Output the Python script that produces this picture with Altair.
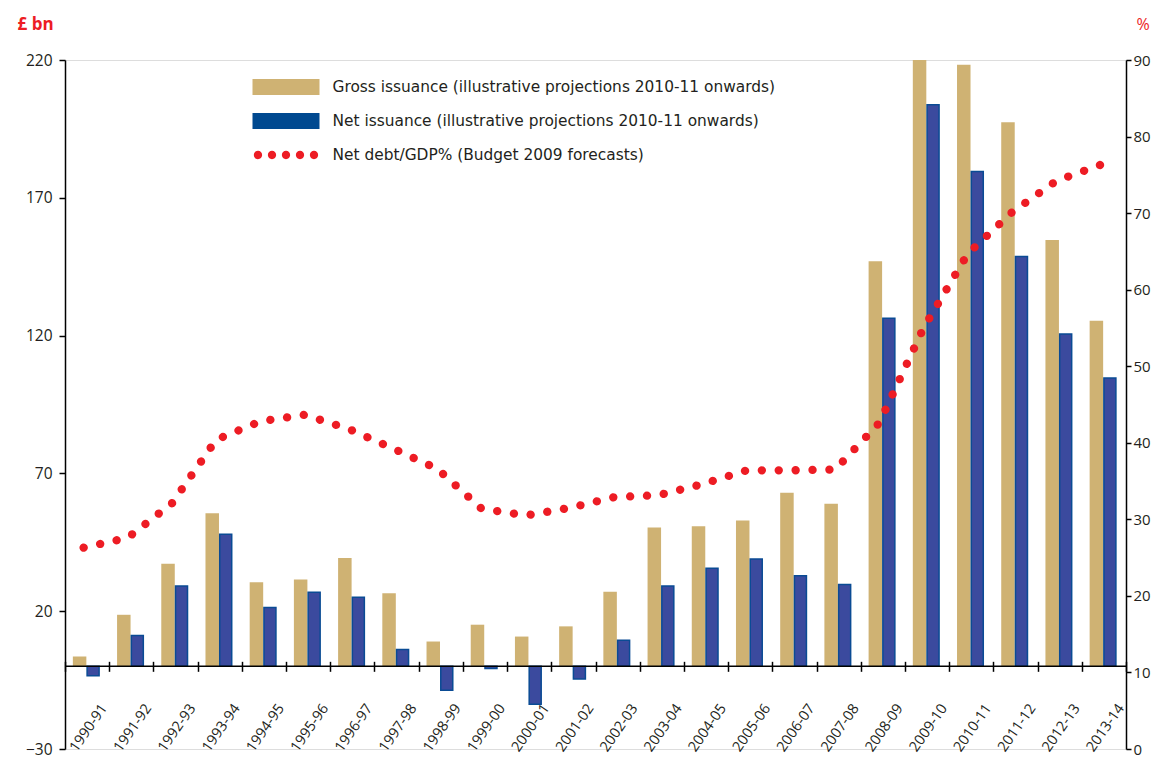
import altair as alt
import pandas as pd

years = ["1990-91", "1991-92", "1992-93", "1993-94", "1994-95", "1995-96",
         "1996-97", "1997-98", "1998-99", "1999-00", "2000-01", "2001-02",
         "2002-03", "2003-04", "2004-05", "2005-06", "2006-07", "2007-08",
         "2008-09", "2009-10", "2010-11", "2011-12", "2012-13", "2013-14"]
gross = [3.6, 18.7, 37.2, 55.5, 30.5, 31.5, 39.3, 26.5, 9.0, 15.1, 10.8, 14.5,
         27.1, 50.4, 50.8, 52.9, 63.0, 59.0, 147.0, 220.0, 218.3, 197.4, 154.7, 125.4]
net = [-3.4, 11.2, 29.1, 47.9, 21.3, 26.9, 25.1, 6.1, -8.7, -0.8, -13.8, -4.6,
       9.5, 29.1, 35.6, 38.9, 32.9, 29.7, 126.3, 203.8, 179.5, 148.7, 120.6, 104.6]
debt = [26.3, 27.6, 32.1, 40.4, 42.8, 43.65, 41.8, 39.25, 36.6, 31.4, 30.5, 31.5,
        32.9, 33.15, 34.6, 36.4, 36.4, 36.5, 42.6, 55.0, 64.7, 70.1, 74.2, 76.3]
series_labels = ["Gross issuance (illustrative projections 2010-11 onwards)",
                 "Net issuance (illustrative projections 2010-11 onwards)",
                 "Net debt/GDP% (Budget 2009 forecasts)"]
left_ticks = [-30, 20, 70, 120, 170, 220]
right_ticks = [0, 10, 20, 30, 40, 50, 60, 70, 80, 90]

df = pd.DataFrame({"year": years, "gross": gross, "net": net, "debt": debt})

GOLD = "#cfb273"
NETFILL = "#3b4a9e"
NETSTROKE = "#0a4b94"
NETLEG = "#004990"
RED = "#ed1c24"
INK = "#231f20"
FONT = "Open Sans"
LEGFONT = "DejaVu Sans"

W, H = 1061, 689
PAD_TOP, PAD_LEFT, PAD_RIGHT, PAD_BOTTOM = 52, 57, 25, 10
LMIN, LMAX = -30, 220
zero_px = (LMAX - 0) / (LMAX - LMIN) * H
x_offset = -(H - zero_px) - 5

RECT = "M-4.1875,-1H4.1875V1H-4.1875Z"
r = 0.52
DOTS = "".join(
    f"M{c - r},0A{r},{r},0,1,0,{c + r},0A{r},{r},0,1,0,{c - r},0Z"
    for c in [-3.5, -1.75, 0, 1.75, 3.5]
)

x_enc = alt.X(
    "year:O", sort=years, title=None,
    scale=alt.Scale(paddingInner=0, paddingOuter=0),
    axis=alt.Axis(orient="bottom", offset=x_offset, domain=False, tickBand="extent",
                  tickSize=10, tickWidth=1.5, tickColor="black",
                  labelAngle=-55, labelPadding=34, labelOffset=17,
                  labelFontSize=14.5, labelColor=INK, labelFont=FONT, grid=False),
)

left_axis = alt.Axis(orient="left", values=left_ticks, grid=False,
                     domainColor="black", domainWidth=1.5, tickColor="black",
                     tickWidth=1.5, tickSize=6, labelPadding=7, labelFontSize=15.5,
                     labelColor=INK, labelFont=FONT,
                     title="£ bn", titleAngle=0, titleAlign="left",
                     titleBaseline="alphabetic", titleX=-48, titleY=-31,
                     titleColor=RED, titleFont=FONT, titleFontSize=17,
                     titleFontWeight="bold")
right_axis = alt.Axis(orient="right", values=right_ticks, grid=False,
                      domainColor="black", domainWidth=1.5, tickColor="black",
                      tickWidth=1.5, tickSize=5, labelPadding=2, labelFontSize=15,
                      labelColor=INK, labelFont=FONT,
                      title="%", titleAngle=0, titleAlign="left",
                      titleBaseline="alphabetic", titleX=10, titleY=-31,
                      titleColor=RED, titleFont=FONT, titleFontSize=16,
                      titleFontWeight="normal")

yl = alt.Scale(domain=[LMIN, LMAX], nice=False, zero=False)

base = alt.Chart(df)

gross_bars = base.mark_bar(size=13.5, xOffset=-7.5, color=GOLD).encode(
    x=x_enc, y=alt.Y("gross:Q", scale=yl, axis=left_axis))
net_bars = base.mark_bar(size=12, xOffset=6, color=NETFILL, stroke=NETSTROKE,
                         strokeWidth=1.5).encode(x=x_enc, y=alt.Y("net:Q"))
zero_rule = alt.Chart(pd.DataFrame({"v": [0]})).mark_rule(
    color="black", strokeWidth=1.5).encode(y=alt.Y("v:Q"))

leg = alt.Legend(title=None, orient="none", legendX=213, legendY=87 - 60 - 8,
                 direction="vertical", symbolSize=256, labelOffset=38.5,
                 rowPadding=17, labelFontSize=15.4, labelColor=INK, labelFont=LEGFONT,
                 labelLimit=800, symbolStrokeWidth=0, symbolOpacity=1, padding=0)
legend_layer = base.transform_calculate(series="'x'").transform_filter("false").mark_point(
    filled=True, opacity=1).encode(
    color=alt.Color("series:N", scale=alt.Scale(domain=series_labels,
                                                 range=[GOLD, NETLEG, RED]), legend=leg),
    shape=alt.Shape("series:N", scale=alt.Scale(domain=series_labels,
                                                 range=[RECT, RECT, DOTS]), legend=leg),
)

line = base.mark_line(color=RED, strokeWidth=8.3, strokeCap="round",
                      strokeDash=[0.1, 16.8], xOffset=-3.5).encode(
    x=x_enc,
    y=alt.Y("debt:Q", scale=alt.Scale(domain=[0, 90], nice=False, zero=False),
            axis=right_axis))

left = alt.layer(gross_bars, net_bars, zero_rule, legend_layer)
chart = alt.layer(left, line).resolve_scale(y="independent").properties(
    width=W, height=H,
    autosize=alt.AutoSizeParams(type="none"),
    padding={"left": PAD_LEFT, "top": PAD_TOP, "right": PAD_RIGHT, "bottom": PAD_BOTTOM},
).configure_view(stroke=None).configure(background="white")

chart.save("out.html", embed_options={"renderer": "svg", "actions": False})
